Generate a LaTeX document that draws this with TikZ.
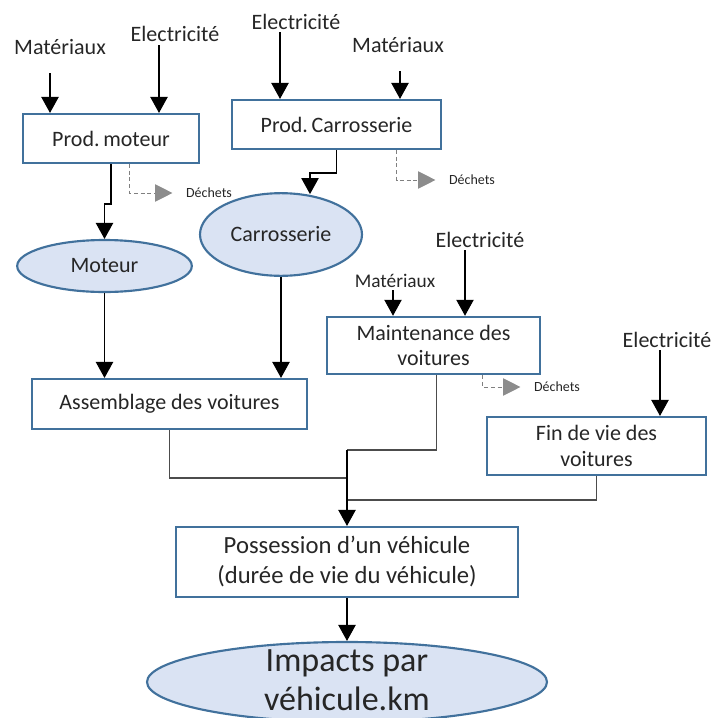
\documentclass[tikz,border=0pt]{standalone}
\usepackage{fontspec}
\setmainfont{Carlito}
\usetikzlibrary{arrows.meta,shapes.geometric,calc}

\definecolor{boxblue}{HTML}{41719C}
\definecolor{ellfill}{HTML}{DAE3F3}
\definecolor{txtgray}{HTML}{262626}

\begin{document}
\begin{tikzpicture}[x=0.75pt,y=-0.75pt,
    box/.style={draw=boxblue, line width=1.6pt, fill=white, inner sep=0pt,
      align=center, text=txtgray, font=\fontsize{16.5}{19}\selectfont},
    ell/.style={ellipse, draw=boxblue, line width=1.6pt, fill=ellfill,
      inner sep=0pt, text=txtgray, font=\fontsize{16.5}{19}\selectfont},
    inlabel/.style={text=txtgray, inner sep=0pt, font=\fontsize{16.5}{19}\selectfont},
    wastelabel/.style={text=txtgray, inner sep=0pt, font=\fontsize{10.5}{12}\selectfont},
    flow/.style={line width=0.9pt, -{Triangle[length=12pt,width=13pt]}},
    route/.style={line width=0.9pt, draw=black!70},
    waste/.style={densely dashed, line width=0.7pt, draw=gray,
      -{Triangle[length=13pt,width=13pt,color=gray!90]}}]
  \useasboundingbox (0,0) rectangle (716,718);

  % Process boxes.
  \node[box, minimum width=132pt, minimum height=36.75pt] (prodmot) at (111,138.5) {Prod.\,moteur};
  \node[box, minimum width=156.75pt, minimum height=36.75pt] (prodcar) at (336.5,124.5) {Prod.\,Carrosserie};
  \node[box, minimum width=206pt, minimum height=37.5pt] (assembl) at (169.5,404) {Assemblage des voitures};
  \node[box, minimum width=160pt, minimum height=43pt] (mainten) at (433.5,345.5) {Maintenance des\\voitures};
  \node[box, minimum width=164pt, minimum height=43.5pt] (finvie) at (596.5,446) {Fin de vie des\\voitures};
  \node[box, minimum width=256.5pt, minimum height=52.5pt,
    font=\fontsize{18.5}{22.5}\selectfont] (possess) at (347,562)
    {Possession d’un véhicule\\(durée de vie du véhicule)};

  % Products.
  \node[ell, minimum width=131pt, minimum height=39pt] (moteur) at (104.5,266) {Moteur};
  \node[ell, minimum width=121.5pt, minimum height=62pt] (carross) at (281,234.5) {Carrosserie};
  \node[ell, minimum width=300pt, minimum height=60pt] (impacts) at (347,682) {};
  \node[align=center, inner sep=0pt, text=txtgray,
    font=\fontsize{25.5}{29}\selectfont] (impactstxt) at (347,680) {Impacts par\\véhicule.km};

  % Inputs.
  \node[inlabel] (matA) at (60,47) {Matériaux};
  \node[inlabel] (elecA) at (175,34) {Electricité};
  \node[inlabel] (elecB) at (296,22) {Electricité};
  \node[inlabel] (matB) at (398,45) {Matériaux};
  \node[inlabel, font=\fontsize{14.5}{17}\selectfont] (matC) at (395,281) {Matériaux};
  \node[inlabel] (elecC) at (480,240) {Electricité};
  \node[inlabel] (elecD) at (667,340) {Electricité};

  \coordinate (inA1) at (50,73);
  \coordinate (inA2) at (159,45);
  \coordinate (inB1) at (280,32);
  \coordinate (inB2) at (400,71);
  \coordinate (inC1) at (393,290);
  \coordinate (inC2) at (465,250);
  \coordinate (inD1) at (660,350);

  \draw[flow] (inA1) -- (inA1 |- prodmot.north);
  \draw[flow] (inA2) -- (inA2 |- prodmot.north);
  \draw[flow] (inB1) -- (inB1 |- prodcar.north);
  \draw[flow] (inB2) -- (inB2 |- prodcar.north);
  \draw[flow] (inC1) -- (inC1 |- mainten.north);
  \draw[flow] (inC2) -- (inC2 |- mainten.north);
  \draw[flow] (inD1) -- (inD1 |- finvie.north);

  % Waste.
  \node[wastelabel] (wasteA) at (209,193) {Déchets};
  \node[wastelabel] (wasteB) at (472,180) {Déchets};
  \node[wastelabel] (wasteC) at (557,387) {Déchets};
  \draw[waste] ([xshift=14pt]prodmot.south) |- ([xshift=-10pt]wasteA.west);
  \draw[waste] ([xshift=45pt]prodcar.south) |- ([xshift=-10pt]wasteB.west);
  \draw[waste] ([xshift=37pt]mainten.south) |- ([xshift=-10pt]wasteC.west);

  % Production chain.
  \draw[flow] (prodmot.south) -- ++(0,40) -| (moteur.north);
  \draw[flow] (prodcar.south) -- ++(0,23) -| ($(carross.north)+(29,2)$);
  \draw[flow] (moteur.south) -- (moteur.south |- assembl.north);
  \draw[flow] (carross.south) -- (carross.south |- assembl.north);

  % Gathering into the vehicle.
  \coordinate (joinM) at (347,450);
  \coordinate (joinA) at (347,478);
  \coordinate (joinF) at (347,500);
  \draw[route] ([xshift=2pt]mainten.south) |- (joinM);
  \draw[route] (assembl.south) |- (joinA);
  \draw[route] (finvie.south) |- (joinF);
  \draw[flow] (joinM) -- (possess.north);
  \draw[flow] (possess.south) -- (impacts.north);
\end{tikzpicture}
\end{document}
